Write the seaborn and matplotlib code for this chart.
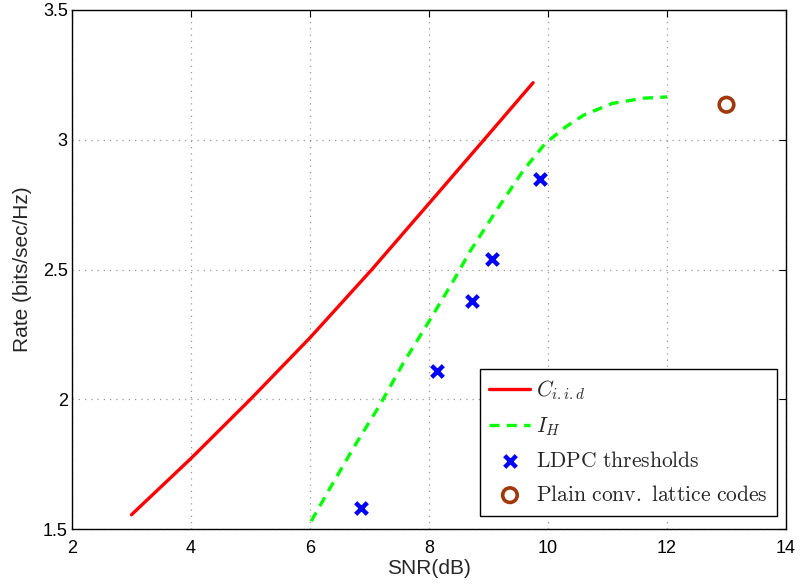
import matplotlib
matplotlib.use("Agg")
import matplotlib.pyplot as plt
import seaborn as sns
import pandas as pd

# Data
ciid_snr = [3.0, 4.0, 5.0, 6.0, 7.04, 8.07, 9.0, 9.75]
ciid_rate = [1.555, 1.772, 2.0, 2.237, 2.5, 2.773, 3.02, 3.22]

ih_snr = [6.02, 6.33, 6.75, 7.18, 7.57, 8.0, 8.42, 8.69, 9.14, 9.58, 9.95, 10.3, 10.6, 11.08, 11.6, 12.0]
ih_rate = [1.53, 1.655, 1.82, 1.98, 2.14, 2.30, 2.46, 2.57, 2.73, 2.88, 2.985, 3.05, 3.095, 3.14, 3.16, 3.165]

ldpc_snr = [6.85, 8.14, 8.73, 9.06, 9.87]
ldpc_rate = [1.58, 2.11, 2.38, 2.54, 2.85]

lattice_snr = [13.0]
lattice_rate = [3.135]

xticks = [2, 4, 6, 8, 10, 12, 14]
yticks = [1.5, 2, 2.5, 3, 3.5]

sns.set_style("white")
plt.rcParams['font.family'] = ['Liberation Sans', 'DejaVu Sans']
plt.rcParams['mathtext.fontset'] = 'cm'

fig = plt.figure(figsize=(8.01, 5.88), dpi=100)
ax = fig.add_axes([72/801, 1-529/588, (786-72)/801, (529-10)/588])

sns.lineplot(x=ciid_snr, y=ciid_rate, ax=ax, color='#ff0000', lw=2.4,
             label=r'$C_{i.i.d}$', sort=False)
sns.lineplot(x=ih_snr, y=ih_rate, ax=ax, color='#00ff00', lw=2.4,
             label=r'$I_H$', sort=False)
ax.lines[-1].set_linestyle((0, (3.0, 2.2)))
sns.scatterplot(x=ldpc_snr, y=ldpc_rate, ax=ax, marker='x', color='#0000ff',
                s=70, linewidth=3.2, label=r'$\mathrm{LDPC\ thresholds}$', zorder=5)
sns.scatterplot(x=lattice_snr, y=lattice_rate, ax=ax, marker='o', facecolor='none',
                edgecolor='#a0380a', s=110, linewidth=2.6,
                label=r'$\mathrm{Plain\ conv.\ lattice\ codes}$', zorder=5)

ax.set_xlim(2, 14)
ax.set_ylim(1.5, 3.5)
ax.set_xticks(xticks)
ax.set_yticks(yticks)
ax.set_xticklabels([str(t) for t in xticks])
ax.set_yticklabels(['1.5', '2', '2.5', '3', '3.5'])
ax.grid(True, linestyle=(0, (1, 4)), color='#9a9a9a', lw=0.9)
ax.tick_params(direction='in', length=5, width=0.8, top=True, right=True,
               labelsize=13, colors='black')
ax.tick_params(axis='x', pad=8)
ax.tick_params(axis='y', pad=3)
for s in ax.spines.values():
    s.set_color('black')
    s.set_linewidth(1.0)
ax.set_xlabel('SNR(dB)', fontsize=15, labelpad=1)
ax.set_ylabel('Rate (bits/sec/Hz)', fontsize=15, labelpad=8)

leg = ax.legend(loc='lower right', bbox_to_anchor=(0.9875, 0.026), fontsize=15.5,
                frameon=True, fancybox=False, edgecolor='black', framealpha=1,
                handlelength=1.9, handletextpad=0.25, borderpad=0.45, labelspacing=0.6,
                borderaxespad=0)
leg.get_frame().set_linewidth(1.0)

fig.savefig('out.png', dpi=100)
